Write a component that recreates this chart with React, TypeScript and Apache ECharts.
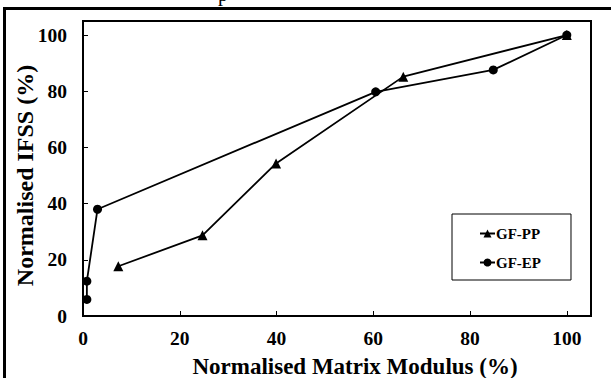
import React, { useEffect, useRef } from "react";
import * as echarts from "echarts";

// Normalised interfacial shear strength vs. normalised matrix modulus
const gfPP: [number, number][] = [
  [7.3, 17.7],
  [24.7, 28.7],
  [39.9, 54.3],
  [66.2, 85.2],
  [100, 100],
];
const gfEP: [number, number][] = [
  [0.8, 5.9],
  [0.8, 12.4],
  [3.0, 38.0],
  [60.5, 79.8],
  [84.8, 87.6],
  [100, 100],
];
const seriesNames = ["GF-PP", "GF-EP"];
const xAxisTitle = "Normalised Matrix Modulus (%)";
const yAxisTitle = "Normalised IFSS (%)";

const FONT = "Liberation Serif";

export default function App() {
  const ref = useRef<HTMLDivElement>(null);

  useEffect(() => {
    if (!ref.current) return;
    const chart = echarts.init(ref.current, undefined, { renderer: "svg" });
    const axisLabel = {
      color: "#000",
      fontFamily: FONT,
      fontWeight: "bold" as const,
      fontSize: 19.5,
    };
    chart.setOption({
      animation: false,
      backgroundColor: "#fff",
      grid: {
        left: 83,
        right: 20,
        top: 21,
        bottom: 62,
        outerBoundsMode: "none",
        containLabel: false,
        show: true,
        borderColor: "#000",
        borderWidth: 2,
        backgroundColor: "transparent",
      },
      xAxis: {
        type: "value",
        min: 0,
        max: 105,
        interval: 20,
        name: xAxisTitle,
        nameLocation: "middle",
        nameGap: 39,
        nameTextStyle: {
          color: "#000",
          fontFamily: FONT,
          fontWeight: "bold",
          fontSize: 23,
          padding: [0, 0, 0, 36],
        },
        axisLine: { show: true, lineStyle: { color: "#000", width: 2 } },
        axisTick: { show: true, inside: true, length: 5, lineStyle: { color: "#000", width: 1 } },
        axisLabel: { ...axisLabel, margin: 12 },
        splitLine: { show: false },
      },
      yAxis: {
        type: "value",
        min: 0,
        max: 105,
        interval: 20,
        name: yAxisTitle,
        nameLocation: "middle",
        nameGap: 46,
        nameMoveOverlap: false,
        nameTextStyle: {
          color: "#000",
          fontFamily: FONT,
          fontWeight: "bold",
          fontSize: 24,
          padding: [0, 14, 0, 0],
        },
        axisLine: { show: true, lineStyle: { color: "#000", width: 2 } },
        axisTick: { show: true, inside: true, length: 5, lineStyle: { color: "#000", width: 1 } },
        axisLabel: { ...axisLabel, margin: 16 },
        splitLine: { show: false },
      },
      legend: {
        orient: "vertical",
        left: 452,
        top: 214,
        padding: [12, 30, 10, 27],
        itemGap: 14,
        itemWidth: 15,
        itemHeight: 10,
        borderColor: "#000",
        borderWidth: 1,
        backgroundColor: "#fff",
        textStyle: {
          color: "#000",
          fontFamily: FONT,
          fontWeight: "bold",
          fontSize: 15,
          padding: [0, 0, 0, -4],
        },
        data: seriesNames,
      },
      series: [
        {
          name: seriesNames[0],
          type: "line",
          data: gfPP,
          symbol: "triangle",
          symbolSize: 10,
          lineStyle: { color: "#000", width: 1.8 },
          itemStyle: { color: "#000" },
        },
        {
          name: seriesNames[1],
          type: "line",
          data: gfEP,
          symbol: "circle",
          symbolSize: 9,
          lineStyle: { color: "#000", width: 1.8 },
          itemStyle: { color: "#000" },
        },
      ],
      graphic: [
        // outer frame edges
        {
          type: "line",
          shape: { x1: 3, y1: 8.5, x2: 611, y2: 8.5 },
          style: { stroke: "#000", lineWidth: 3 },
        },
        {
          type: "line",
          shape: { x1: 4.5, y1: 7, x2: 4.5, y2: 378 },
          style: { stroke: "#000", lineWidth: 3 },
        },
        // descender of the caption text above the frame
        {
          type: "text",
          x: 218,
          y: -16,
          style: {
            text: "p",
            fill: "#000",
            fontSize: 20,
            fontFamily: FONT,
            verticalAlign: "top",
          },
        },
      ],
    });
    return () => chart.dispose();
  }, []);

  return (
    <div
      ref={ref}
      style={{ position: "absolute", left: 0, top: 0, width: 611, height: 378 }}
    />
  );
}
